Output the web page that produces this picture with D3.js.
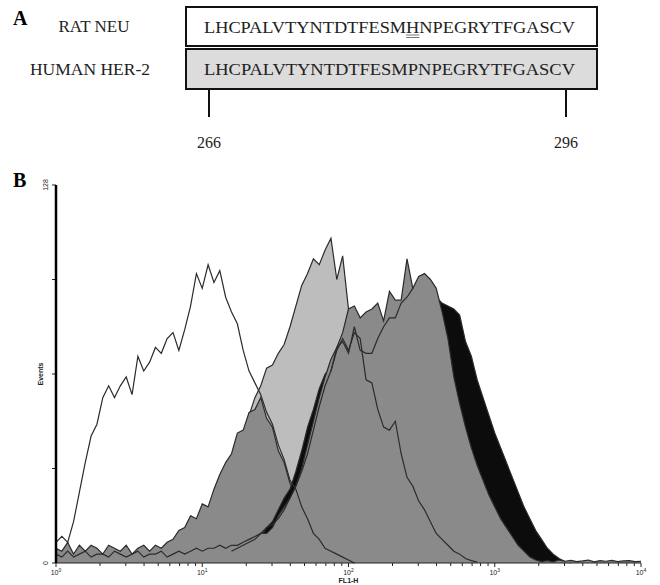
<!DOCTYPE html>
<html>
<head>
<meta charset="utf-8">
<script src="https://cdn.jsdelivr.net/npm/d3@7"></script>
<style>
  body { margin: 0; background: #fff; }
  svg { display: block; }
</style>
</head>
<body>
<svg id="fig" width="660" height="585"></svg>
<script>
// panel A: peptide alignment
const ratSeq = "LHCPALVTYNTDTFESMHNPEGRYTFGASCV";
const humanSeq = "LHCPALVTYNTDTFESMPNPEGRYTFGASCV";
const seqLabels = ["RAT NEU", "HUMAN HER-2"];
const residueMarks = ["266", "296"];
const mutatedIndex = 17; // H in rat neu

// panel B: FL1-H histograms, one value per channel bin (0.04 decade)
const binWidth = 0.04;
const yTicks = [0, 32, 64, 96, 128];
const decades = [1, 10, 100, 1000, 10000];

// open control histogram
const openStart = 0;
const openVals = [7, 9, 7, 14, 24, 34, 43, 47, 56, 60, 56, 60, 63, 57, 70, 65, 68, 73, 71, 76,
  78, 72, 79, 87, 98, 93, 101, 95, 99, 90, 85, 81, 72, 65, 61, 57, 51, 47, 40, 35,
  28, 25, 19, 15, 10, 8, 5, 4, 3, 2, 1, 0];

// dark-gray filled, peak ~25
const aStart = 0;
const aVals = [5, 4, 7, 3, 6, 4, 6, 5, 3, 6, 5, 4, 6, 3, 5, 6, 4, 6, 5, 7,
  8, 11, 12, 16, 15, 20, 19, 25, 30, 34, 37, 44, 45, 51, 52, 56, 49, 46, 38, 34,
  27, 24, 18, 15, 11, 8, 6, 4, 3, 2, 1, 0];

// light-gray filled, peak ~70
const bStart = 20;
const bVals = [3, 4, 5, 7, 9, 11, 14, 17, 21, 25, 30, 35, 42, 50, 56, 60, 66, 67, 71, 74,
  80, 87, 94, 98, 103, 101, 106, 110, 96, 104, 86, 80, 77, 72, 69, 63, 59, 53, 49, 43,
  38, 33, 28, 23, 19, 15, 11, 8, 5, 3, 1, 0];

// gray filled, peak ~350
const cStart = 0;
const cVals = [3, 2, 4, 2, 3, 4, 2, 3, 3, 2, 4, 3, 2, 3, 4, 2, 3, 3, 4, 2,
  3, 4, 3, 4, 5, 4, 5, 5, 6, 5, 6, 6, 7, 8, 9, 10, 10, 12, 16, 19,
  22, 26, 32, 40, 48, 56, 63, 69, 73, 78, 86, 87, 83, 85, 86, 88, 82, 92, 89, 89,
  103, 93, 97, 98, 96, 93, 85, 76, 63, 54, 46, 39, 33, 28, 23, 19, 15, 12, 9, 6,
  4, 2, 1, 0.5, 0.8, 0.4, 1, 0.6, 0.9, 0.5, 0.7, 1, 0.4, 0.8, 0.6, 0.9, 0.5, 0.7, 0.8, 0.5, 0.6];

// black filled, slightly brighter than C
const dStart = 20;
const dVals = [2, 2, 3, 3, 4, 3, 4, 4, 5, 4, 5, 5, 6, 7, 8, 9, 12, 14, 18, 22,
  25, 31, 38, 46, 52, 59, 64, 66, 70, 74, 80, 82, 80, 82, 83, 84, 80, 86, 86, 87,
  95, 90, 92, 93, 92, 90, 88, 87, 86, 84, 75, 70, 62, 56, 50, 44, 39, 34, 29, 24,
  19, 15, 11, 8, 5, 3, 1.5, 0.5, 0];

// outline-only histograms
const eStart = 30;
const eVals = [4, 5, 6, 7, 8, 10, 12, 13, 15, 18, 22, 26, 31, 37, 45, 53, 60, 65, 72, 76,
  72, 78, 76, 62, 61, 52, 46, 45, 48, 37, 29, 26, 21, 18, 14, 10, 8, 6, 4, 3,
  1.5, 0.8, 0.3];
const fStart = 47;
const fVals = [65, 73, 75, 71, 80, 72, 71, 71, 76, 80, 83, 83, 88, 90, 93];

const svg = d3.select("#fig");
const serif = "'Liberation Serif', 'Times New Roman', serif";
const sans = "'Liberation Sans', Arial, sans-serif";

// ---------- panel A ----------
svg.append("text").attr("x", 13).attr("y", 25)
  .attr("font-family", serif).attr("font-weight", "bold").attr("font-size", 20)
  .text("A");

const rows = [
  { label: seqLabels[0], seq: ratSeq, y0: 7, y1: 46, fill: "#ffffff", lx: 94, fs: 17 },
  { label: seqLabels[1], seq: humanSeq, y0: 49, y1: 89, fill: "#dcdcdc", lx: 90, fs: 17.5 }
];

rows.forEach(r => {
  svg.append("rect")
    .attr("x", 186).attr("y", r.y0)
    .attr("width", 411).attr("height", r.y1 - r.y0)
    .attr("fill", r.fill).attr("stroke", "#111").attr("stroke-width", 2);
  svg.append("text")
    .attr("x", r.lx).attr("y", (r.y0 + r.y1) / 2 + 5.5)
    .attr("text-anchor", "middle")
    .attr("font-family", serif).attr("font-size", r.fs).attr("fill", "#222")
    .text(r.label);
  r.node = svg.append("text")
    .attr("x", 204).attr("y", (r.y0 + r.y1) / 2 + 6)
    .attr("font-family", serif).attr("font-size", 16.5).attr("fill", "#222")
    .attr("textLength", 371).attr("lengthAdjust", "spacingAndGlyphs")
    .text(r.seq).node();
});

// underline the mutated residue
const ext = rows[0].node.getExtentOfChar(mutatedIndex);
[0, 2.5].forEach(dy => {
  svg.append("line")
    .attr("x1", ext.x).attr("x2", ext.x + ext.width)
    .attr("y1", 35 + dy).attr("y2", 35 + dy)
    .attr("stroke", "#777").attr("stroke-width", 1);
});

// residue number ticks
const residueX = [209, 566];
residueMarks.forEach((m, i) => {
  svg.append("line")
    .attr("x1", residueX[i]).attr("x2", residueX[i])
    .attr("y1", 89).attr("y2", 117)
    .attr("stroke", "#111").attr("stroke-width", 2);
  svg.append("text")
    .attr("x", residueX[i]).attr("y", 148)
    .attr("text-anchor", "middle")
    .attr("font-family", serif).attr("font-size", 16).attr("fill", "#222")
    .text(m);
});

// ---------- panel B ----------
svg.append("text").attr("x", 13).attr("y", 187)
  .attr("font-family", serif).attr("font-weight", "bold").attr("font-size", 20)
  .text("B");

const x = d3.scaleLog().domain([1, 10000]).range([56, 641]);
const y = d3.scaleLinear().domain([0, 128]).range([563, 185]);

function toPoints(start, vals) {
  return vals.map((v, i) => ({ x: Math.pow(10, (start + i) * binWidth), y: v }));
}

const area = d3.area()
  .x(d => x(d.x)).y0(y(0)).y1(d => y(d.y));
const line = d3.line()
  .x(d => x(d.x)).y(d => y(d.y));

const plot = svg.append("g");

function drawFilled(start, vals, fill) {
  const pts = toPoints(start, vals);
  plot.append("path").datum(pts)
    .attr("d", area).attr("fill", fill).attr("stroke", "none");
  plot.append("path").datum(pts)
    .attr("d", line).attr("fill", "none")
    .attr("stroke", "#2b2b2b").attr("stroke-width", 1.2);
}
function drawOutline(start, vals) {
  plot.append("path").datum(toPoints(start, vals))
    .attr("d", line).attr("fill", "none")
    .attr("stroke", "#2b2b2b").attr("stroke-width", 1.2);
}

drawFilled(bStart, bVals, "#bdbdbd");
drawFilled(aStart, aVals, "#8a8a8a");
drawFilled(dStart, dVals, "#0c0c0c");
drawFilled(cStart, cVals, "#8a8a8a");
drawOutline(eStart, eVals);
drawOutline(fStart, fVals);
drawOutline(openStart, openVals);

// x axis (log, with minor ticks)
const minor = [];
decades.slice(0, -1).forEach(d => {
  for (let k = 1; k <= 9; k++) minor.push(d * k);
});
minor.push(10000);

const xAxis = svg.append("g").attr("transform", `translate(0,${y(0)})`);
xAxis.append("line").attr("x1", x(1)).attr("x2", x(10000))
  .attr("stroke", "#222").attr("stroke-width", 1.2);
xAxis.selectAll("line.tick").data(minor).enter().append("line")
  .attr("class", "tick")
  .attr("x1", d => x(d)).attr("x2", d => x(d))
  .attr("y1", 0).attr("y2", d => decades.includes(d) ? 4 : 3)
  .attr("stroke", "#222").attr("stroke-width", 1);
const xLab = xAxis.selectAll("text.lab").data(decades).enter().append("text")
  .attr("class", "lab")
  .attr("x", d => x(d)).attr("y", 12)
  .attr("text-anchor", "middle")
  .attr("font-family", sans).attr("font-size", 7).attr("fill", "#222");
xLab.append("tspan").text("10");
xLab.append("tspan").attr("dy", -3).attr("font-size", 5)
  .text((d, i) => i);

svg.append("text")
  .attr("x", x(100)).attr("y", 583)
  .attr("text-anchor", "middle")
  .attr("font-family", sans).attr("font-weight", "bold").attr("font-size", 7)
  .attr("fill", "#222")
  .text("FL1-H");

// y axis
const yAxis = svg.append("g").attr("transform", `translate(${x(1)},0)`);
yAxis.selectAll("line.tick").data(yTicks).enter().append("line")
  .attr("class", "tick")
  .attr("x1", -4).attr("x2", 0)
  .attr("y1", d => y(d)).attr("y2", d => y(d))
  .attr("stroke", "#222").attr("stroke-width", 1);
yAxis.append("line")
  .attr("x1", 0).attr("x2", 0).attr("y1", y(128)).attr("y2", y(0))
  .attr("stroke", "#000").attr("stroke-width", 2.5);
yAxis.selectAll("text.lab").data([0, 128]).enter().append("text")
  .attr("class", "lab")
  .attr("transform", d => `translate(-8,${y(d)}) rotate(-90)`)
  .attr("text-anchor", "middle")
  .attr("font-family", sans).attr("font-size", 7).attr("fill", "#222")
  .text(d => d);

svg.append("text")
  .attr("transform", `translate(43,${y(64)}) rotate(-90)`)
  .attr("text-anchor", "middle")
  .attr("font-family", sans).attr("font-weight", "bold").attr("font-size", 7)
  .attr("fill", "#222")
  .text("Events");
</script>
</body>
</html>
